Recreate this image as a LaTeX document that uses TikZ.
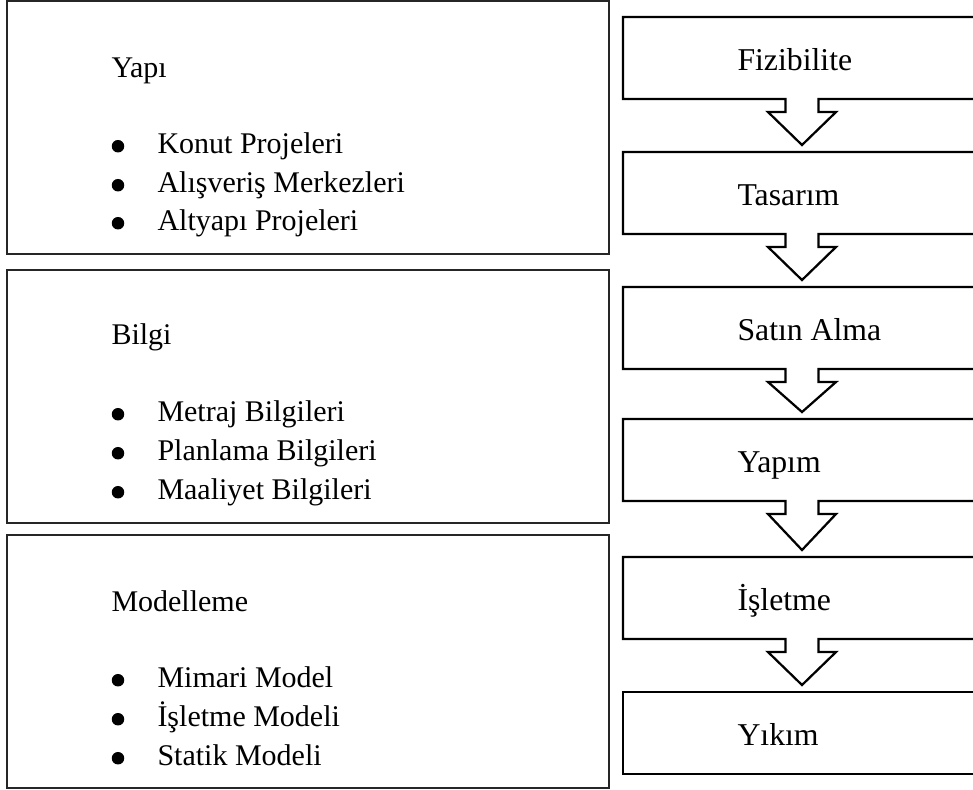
\documentclass[tikz,border=0pt]{standalone}
\usepackage{fontspec}
\setmainfont{Liberation Serif}
\usetikzlibrary{calc}
\newcommand{\ShaftW}{16.5}
\newcommand{\HeadW}{34}
\newcommand{\ShaftL}{13}
\newcommand{\TipGap}{7}

\begin{document}
\begin{tikzpicture}[x=0.4pt, y=-0.4pt,
  groupbox/.style={rectangle, draw=black!85, line width=0.55pt, anchor=north west,
    inner sep=0pt, outer sep=0pt, minimum width=240.8pt, minimum height=101.2pt},
  phasebox/.style={rectangle, anchor=north west, inner sep=0pt, outer sep=0pt,
    minimum width=143.2pt, minimum height=32.8pt},
  phaseline/.style={line width=0.9pt, line join=miter},
  boxtext/.style={anchor=base west, inner sep=0pt, font=\fontsize{12}{14}\selectfont},
  phasetext/.style={boxtext, font=\fontsize{12.7}{15}\selectfont},
  dot/.style={radius=2.5pt}]

\useasboundingbox (0,0) rectangle (973,789);
\clip (0,0) rectangle (973,789);

% left column
\node[groupbox] (yapi) at (7,1) {};
\node[boxtext] (yapit) at (111,77) {Yapı};
\node[boxtext] (konut) at (157,153) {Konut Projeleri};
\node[boxtext] (avm) at (157,192) {Alışveriş Merkezleri};
\node[boxtext] (altyapi) at (157,230) {Altyapı Projeleri};
\fill ($(konut.base west)+(-39,-6.8)$) circle [dot];
\fill ($(avm.base west)+(-39,-6.8)$) circle [dot];
\fill ($(altyapi.base west)+(-39,-6.8)$) circle [dot];

\node[groupbox] (bilgi) at (7,270) {};
\node[boxtext] (bilgit) at (111,344) {Bilgi};
\node[boxtext] (metraj) at (157,421) {Metraj Bilgileri};
\node[boxtext] (plan) at (157,460) {Planlama Bilgileri};
\node[boxtext] (maliyet) at (157,499) {Maaliyet Bilgileri};
\fill ($(metraj.base west)+(-39,-6.8)$) circle [dot];
\fill ($(plan.base west)+(-39,-6.8)$) circle [dot];
\fill ($(maliyet.base west)+(-39,-6.8)$) circle [dot];

\node[groupbox] (model) at (7,535) {};
\node[boxtext] (modelt) at (111,611) {Modelleme};
\node[boxtext] (mimari) at (157,687) {Mimari Model};
\node[boxtext] (isletme) at (157,726) {İşletme Modeli};
\node[boxtext] (statik) at (157,765) {Statik Modeli};
\fill ($(mimari.base west)+(-39,-6.8)$) circle [dot];
\fill ($(isletme.base west)+(-39,-6.8)$) circle [dot];
\fill ($(statik.base west)+(-39,-6.8)$) circle [dot];

% right column
\node[phasebox] (fiz) at (623,17) {};
\node[phasebox] (tas) at (623,152) {};
\node[phasebox] (sat) at (623,287) {};
\node[phasebox] (yap) at (623,419) {};
\node[phasebox] (isl) at (623,557) {};
\node[phasebox, draw, line width=0.9pt] (yik) at (623,692) {};

\node[phasetext] (fizt) at (737,70) {Fizibilite};
\node[phasetext] (tast) at (737,205) {Tasarım};
\node[phasetext] (satt) at (737,340) {Satın Alma};
\node[phasetext] (yapt) at (737,472) {Yapım};
\node[phasetext] (islt) at (737,610) {İşletme};
\node[phasetext] (yikt) at (737,745) {Yıkım};

% box outlines with the arrow below
\draw[phaseline] (fiz.south west) -- (fiz.north west) -- (fiz.north east) -- (fiz.south east)
  -- ($(fiz.south)+(\ShaftW,0)$) -- ++(0,\ShaftL) -- ++(\HeadW-\ShaftW,0) -- ($(tas.north)+(0,-\TipGap)$)
  -- ($(fiz.south)+(-\HeadW,\ShaftL)$) -- ++(\HeadW-\ShaftW,0) -- ++(0,-\ShaftL) -- cycle;
\draw[phaseline] (tas.south west) -- (tas.north west) -- (tas.north east) -- (tas.south east)
  -- ($(tas.south)+(\ShaftW,0)$) -- ++(0,\ShaftL) -- ++(\HeadW-\ShaftW,0) -- ($(sat.north)+(0,-\TipGap)$)
  -- ($(tas.south)+(-\HeadW,\ShaftL)$) -- ++(\HeadW-\ShaftW,0) -- ++(0,-\ShaftL) -- cycle;
\draw[phaseline] (sat.south west) -- (sat.north west) -- (sat.north east) -- (sat.south east)
  -- ($(sat.south)+(\ShaftW,0)$) -- ++(0,\ShaftL) -- ++(\HeadW-\ShaftW,0) -- ($(yap.north)+(0,-\TipGap)$)
  -- ($(sat.south)+(-\HeadW,\ShaftL)$) -- ++(\HeadW-\ShaftW,0) -- ++(0,-\ShaftL) -- cycle;
\draw[phaseline] (yap.south west) -- (yap.north west) -- (yap.north east) -- (yap.south east)
  -- ($(yap.south)+(\ShaftW,0)$) -- ++(0,\ShaftL) -- ++(\HeadW-\ShaftW,0) -- ($(isl.north)+(0,-\TipGap)$)
  -- ($(yap.south)+(-\HeadW,\ShaftL)$) -- ++(\HeadW-\ShaftW,0) -- ++(0,-\ShaftL) -- cycle;
\draw[phaseline] (isl.south west) -- (isl.north west) -- (isl.north east) -- (isl.south east)
  -- ($(isl.south)+(\ShaftW,0)$) -- ++(0,\ShaftL) -- ++(\HeadW-\ShaftW,0) -- ($(yik.north)+(0,-\TipGap)$)
  -- ($(isl.south)+(-\HeadW,\ShaftL)$) -- ++(\HeadW-\ShaftW,0) -- ++(0,-\ShaftL) -- cycle;

\end{tikzpicture}
\end{document}
